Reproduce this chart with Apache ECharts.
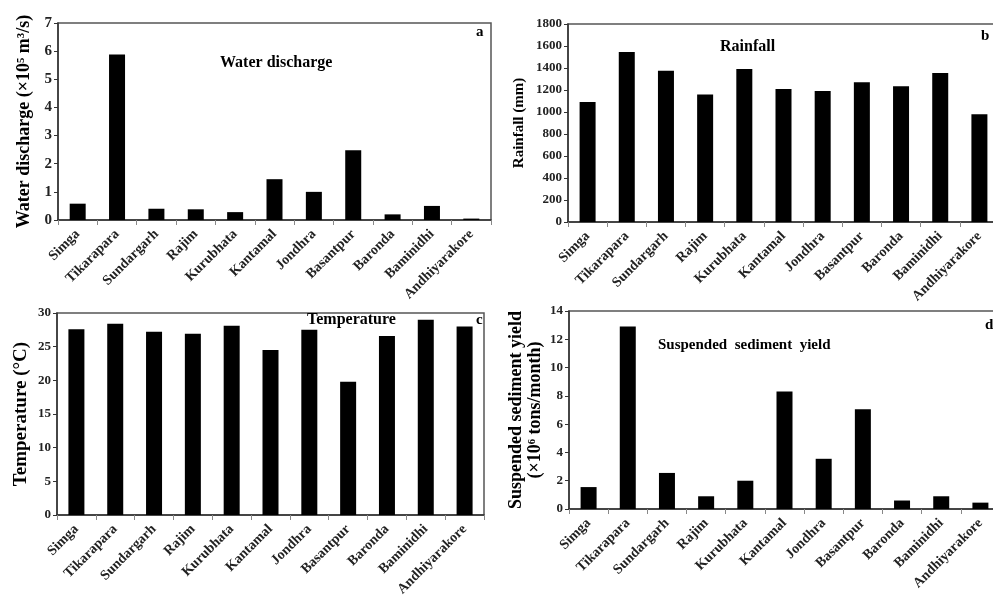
<!DOCTYPE html>
<html><head><meta charset="utf-8">
<script src="https://cdn.jsdelivr.net/npm/echarts@6/dist/echarts.min.js"></script>
<style>html,body{margin:0;padding:0;background:#fff}#c{width:993px;height:596px}</style>
</head><body><div id="c"></div>
<script>
const stations = ['Simga','Tikarapara','Sundargarh','Rajim','Kurubhata','Kantamal','Jondhra','Basantpur','Baronda','Baminidhi','Andhiyarakore'];
const waterDischarge = [0.58, 5.88, 0.40, 0.38, 0.28, 1.45, 1.00, 2.48, 0.20, 0.50, 0.05];
const rainfall = [1090, 1545, 1375, 1160, 1390, 1210, 1190, 1270, 1235, 1355, 980];
const temperature = [27.6, 28.4, 27.2, 26.9, 28.1, 24.5, 27.5, 19.8, 26.6, 29.0, 28.0];
const sedimentYield = [1.55, 12.9, 2.55, 0.9, 2.0, 8.3, 3.55, 7.05, 0.6, 0.9, 0.45];

const FF = '"Liberation Serif","Times New Roman",serif';
const chart = echarts.init(document.getElementById('c'));

const grids = [
  {left:58, top:23, width:433, height:197},
  {left:568, top:24, width:431, height:198},
  {left:57, top:313, width:427, height:202},
  {left:569, top:311, width:431, height:198}
].map(g => Object.assign({show:true, borderColor:'#555', borderWidth:1.5, backgroundColor:'transparent',
  outerBoundsMode:'none', containLabel:false}, g));

function xAx(i){
  return {gridIndex:i, type:'category', data:stations,
    axisLine:{lineStyle:{color:'#333', width:1.5}},
    axisTick:{show:true, length:5, lineStyle:{color:'#888'}},
    axisLabel:{rotate:45, interval:0, fontFamily:FF, fontWeight:'bold', fontSize:14, color:'#222', margin:12}};
}
function yAx(i, max, step, name, gap, fs, lfs){
  return {gridIndex:i, type:'value', min:0, max:max, interval:step,
    name:name, nameLocation:'middle', nameGap:gap, nameRotate:90,
    nameTextStyle:{fontFamily:FF, fontWeight:'bold', fontSize:fs, color:'#000', lineHeight:fs+1},
    axisLine:{show:true, lineStyle:{color:'#333', width:1.5}},
    axisTick:{show:true, length:4, lineStyle:{color:'#333'}},
    splitLine:{show:false},
    axisLabel:{fontFamily:FF, fontWeight:'bold', fontSize:lfs, color:'#222', margin:6,
      formatter: v => String(v)}};
}
function ser(i, data){
  return {type:'bar', xAxisIndex:i, yAxisIndex:i, data:data, barWidth:16,
    itemStyle:{color:'#000'}, silent:true};
}
function ttl(text, left, top, fs){
  return {text:text, left:left, top:top, padding:0,
    textStyle:{fontFamily:FF, fontWeight:'bold', fontSize:fs, color:'#000'}};
}

chart.setOption({
  animation:false,
  title:[
    ttl('Water discharge', 220, 55, 16),
    ttl('a', 476, 25, 15),
    ttl('Rainfall', 720, 39, 16),
    ttl('b', 981, 29, 15),
    ttl('Temperature', 307, 312, 16),
    ttl('c', 476, 313, 15),
    ttl('Suspended  sediment  yield', 658, 338, 15),
    ttl('d', 985, 318, 15)
  ],
  grid:grids,
  xAxis:[xAx(0), xAx(1), xAx(2), xAx(3)],
  yAxis:[
    yAx(0, 7, 1, 'Water discharge (×10⁵ m³/s)', 24, 18, 15),
    yAx(1, 1800, 200, 'Rainfall (mm)', 41, 15, 13),
    yAx(2, 30, 5, 'Temperature (°C)', 26, 19, 13),
    yAx(3, 14, 2, 'Suspended sediment yield\n(×10⁶ tons/month)', 24, 18, 13)
  ],
  series:[ser(0, waterDischarge), ser(1, rainfall), ser(2, temperature), ser(3, sedimentYield)]
});
</script></body></html>
